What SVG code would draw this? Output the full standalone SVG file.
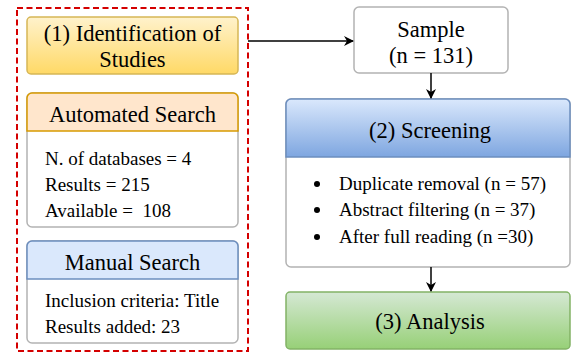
<svg xmlns="http://www.w3.org/2000/svg" width="572" height="353" viewBox="0 0 572 353">
<defs>
<linearGradient id="gY" x1="0" y1="0" x2="0" y2="1"><stop offset="0" stop-color="#fff2cc"/><stop offset="1" stop-color="#ffd966"/></linearGradient>
<linearGradient id="gB" x1="0" y1="0" x2="0" y2="1"><stop offset="0" stop-color="#dae8fc"/><stop offset="1" stop-color="#7ea6e0"/></linearGradient>
<linearGradient id="gG" x1="0" y1="0" x2="0" y2="1"><stop offset="0" stop-color="#d5e8d4"/><stop offset="1" stop-color="#97d077"/></linearGradient>
<marker id="arr" viewBox="0 0 10 10" refX="9" refY="5" markerWidth="10" markerHeight="10" markerUnits="userSpaceOnUse" orient="auto"><path d="M0,0 L10,5 L0,10 L3,5 Z" fill="#000"/></marker>
</defs>
<style>
text{font-family:"Liberation Serif","Times New Roman",Times,"DejaVu Serif",serif}
.t{font-size:22.5px;text-anchor:middle}
.b{font-size:19px}
.body{fill:#fff;stroke:#b3b3b3;stroke-width:1.5}
.conn{stroke:#000;stroke-width:1.5;fill:none;marker-end:url(#arr)}
</style>
<rect x="17" y="8" width="231" height="343" fill="none" stroke="#d40000" stroke-width="2" stroke-dasharray="6 3.5"/>
<g id="identification">
<rect x="27" y="17" width="211" height="57" rx="4" fill="url(#gY)" stroke="#d6b656" stroke-width="1.5"/>
<text class="t" x="132.5" y="41">(1) Identification of</text>
<text class="t" x="132.5" y="67">Studies</text>
</g>
<g id="automated">
<rect class="body" x="27" y="93" width="211" height="134" rx="5"/>
<path d="M27,131 V98 a5,5 0 0 1 5,-5 H233 a5,5 0 0 1 5,5 V131 Z" fill="#ffe6cc" stroke="#d79b00" stroke-width="1.5"/>
<text class="t" x="132.5" y="122">Automated Search</text>
<text class="b" x="45" y="165">N. of databases = 4</text>
<text class="b" x="45" y="191">Results = 215</text>
<text class="b" x="45" y="217" xml:space="preserve">Available =  108</text>
</g>
<g id="manual">
<rect class="body" x="27" y="241" width="211" height="102" rx="5"/>
<path d="M27,279 V246 a5,5 0 0 1 5,-5 H233 a5,5 0 0 1 5,5 V279 Z" fill="#dae8fc" stroke="#6c8ebf" stroke-width="1.5"/>
<text class="t" x="132.5" y="270">Manual Search</text>
<text class="b" x="45" y="307">Inclusion criteria: Title</text>
<text class="b" x="45" y="333">Results added: 23</text>
</g>
<g id="sample">
<rect class="body" x="354" y="7" width="154" height="66" rx="5"/>
<text class="t" x="431" y="37">Sample</text>
<text class="t" x="431" y="63">(n = 131)</text>
</g>
<g id="screening">
<rect class="body" x="286" y="99" width="284" height="168" rx="5"/>
<path d="M286,157 V104 a5,5 0 0 1 5,-5 H565 a5,5 0 0 1 5,5 V157 Z" fill="url(#gB)" stroke="#6c8ebf" stroke-width="1.5"/>
<text class="t" x="430" y="138">(2) Screening</text>
<circle cx="317" cy="184" r="3"/>
<circle cx="317" cy="210" r="3"/>
<circle cx="317" cy="237" r="3"/>
<text class="b" x="339" y="190">Duplicate removal (n = 57)</text>
<text class="b" x="339" y="216">Abstract filtering (n = 37)</text>
<text class="b" x="339" y="243">After full reading (n =30)</text>
</g>
<g id="analysis">
<rect x="286" y="292" width="284" height="57" rx="4" fill="url(#gG)" stroke="#82b366" stroke-width="1.5"/>
<text class="t" x="430" y="329">(3) Analysis</text>
</g>
<g id="connectors">
<path class="conn" d="M248,41 H353"/>
<path class="conn" d="M431,73 V98"/>
<path class="conn" d="M431,267 V291"/>
</g>
</svg>
